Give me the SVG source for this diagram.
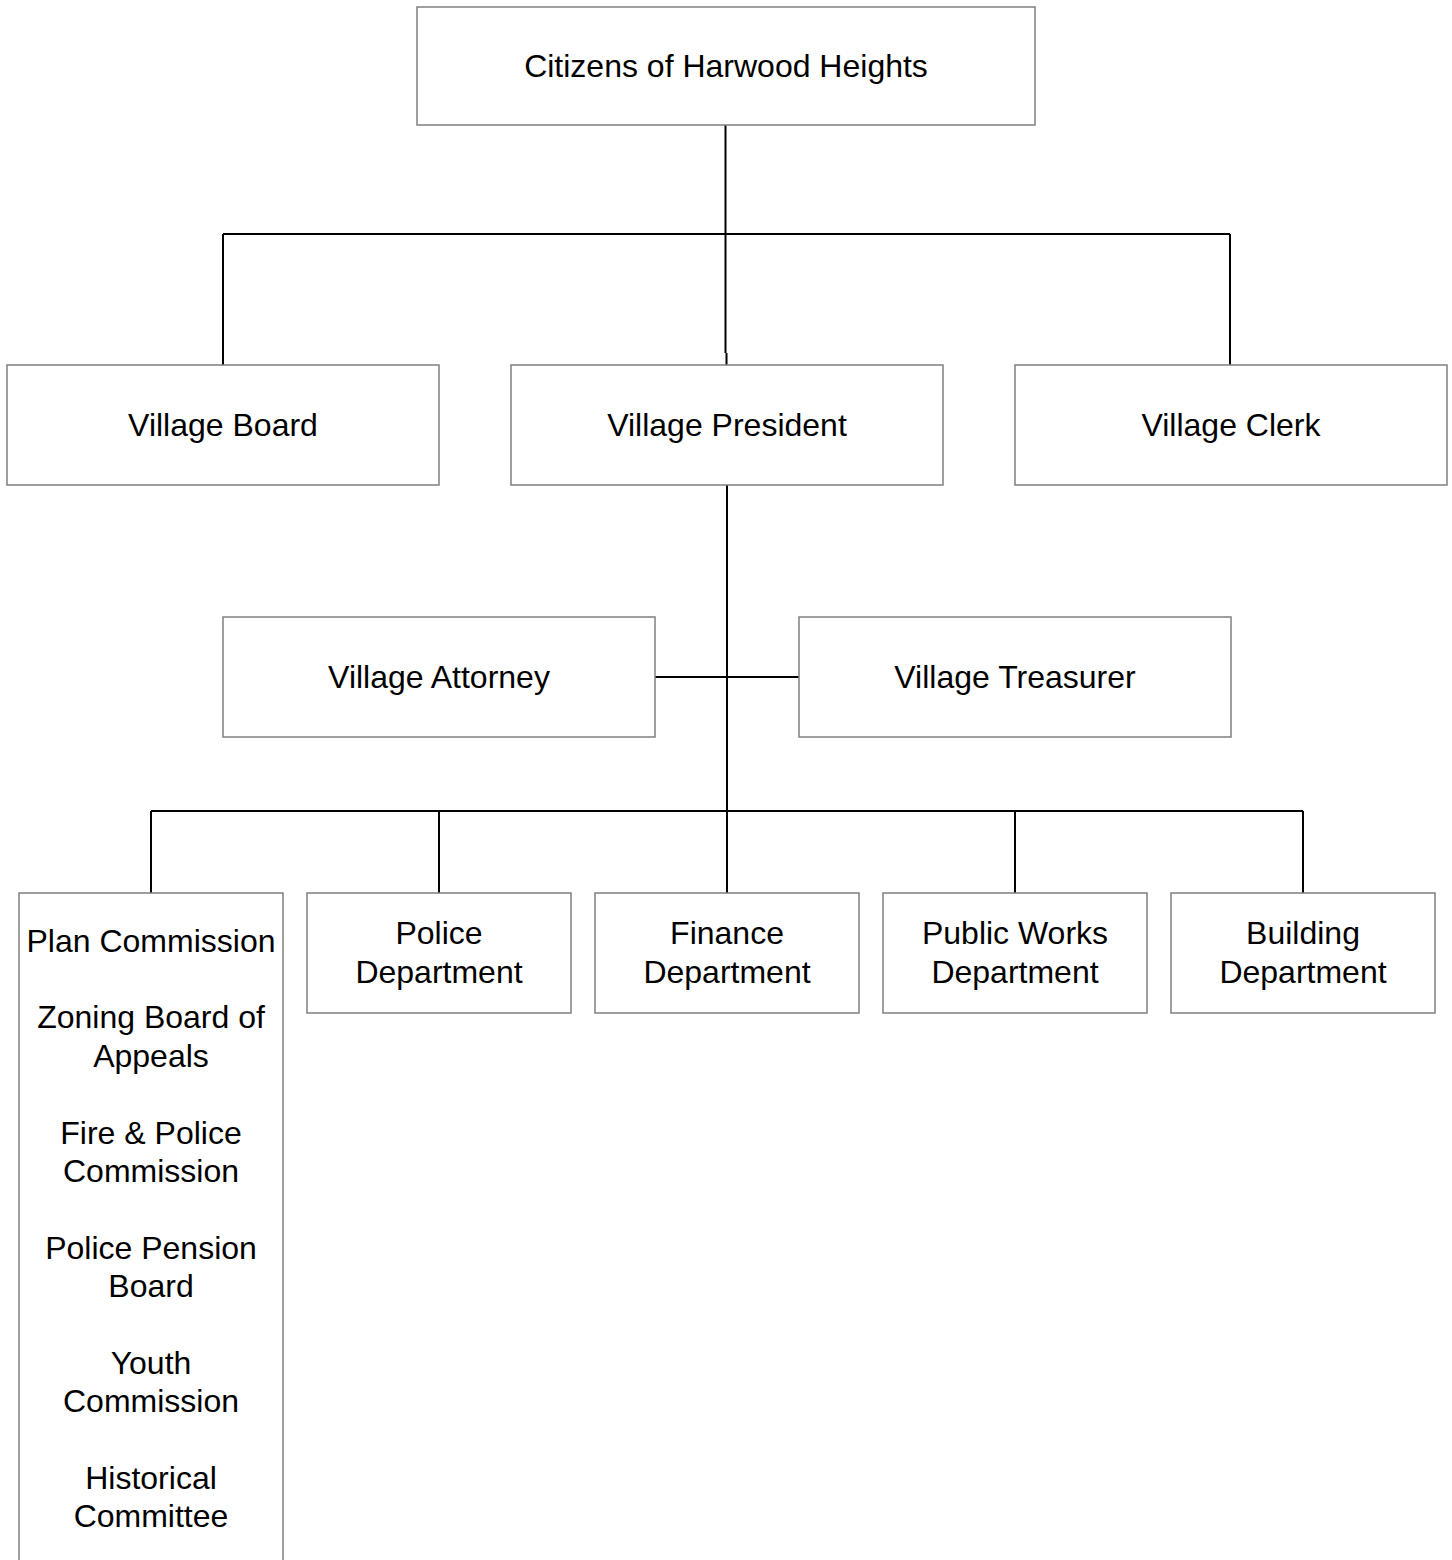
<svg xmlns="http://www.w3.org/2000/svg" width="1452" height="1560" viewBox="0 0 1452 1560">
<style>
.box{fill:#fff;stroke:#808080;stroke-width:1.5}
.lbl{font-family:"Liberation Sans",Arial,sans-serif;font-size:32px;fill:#000;text-anchor:middle}
.conn{stroke:#000;stroke-width:2;fill:none}
</style>
<rect width="1452" height="1560" fill="#fff"/>
<g id="connectors">
<path class="conn" d="M725.5 125V234M223 234H1230M223 234V365M1230 234V365M725.5 234V353M726.5 353V365"/>
<path class="conn" d="M727 485V893M655 677H799M151 811H1303M151 811V893M439 811V893M1015 811V893M1303 811V893"/>
</g>
<g id="citizens"><rect class="box" x="417" y="7" width="618" height="118"/><text class="lbl" x="726" y="76.5">Citizens of Harwood Heights</text></g>
<g id="board"><rect class="box" x="7" y="365" width="432" height="120"/><text class="lbl" x="223" y="435.5">Village Board</text></g>
<g id="president"><rect class="box" x="511" y="365" width="432" height="120"/><text class="lbl" x="727" y="435.5">Village President</text></g>
<g id="clerk"><rect class="box" x="1015" y="365" width="432" height="120"/><text class="lbl" x="1231" y="435.5">Village Clerk</text></g>
<g id="attorney"><rect class="box" x="223" y="617" width="432" height="120"/><text class="lbl" x="439" y="687.5">Village Attorney</text></g>
<g id="treasurer"><rect class="box" x="799" y="617" width="432" height="120"/><text class="lbl" x="1015" y="687.5">Village Treasurer</text></g>
<g id="commissions"><path class="box" d="M19 1562V893H283V1562"/>
<text class="lbl" x="151" y="951.5">Plan Commission</text>
<text class="lbl" x="151" y="1027.5">Zoning Board of</text><text class="lbl" x="151" y="1066.5">Appeals</text>
<text class="lbl" x="151" y="1143.5">Fire &amp; Police</text><text class="lbl" x="151" y="1181.5">Commission</text>
<text class="lbl" x="151" y="1258.5">Police Pension</text><text class="lbl" x="151" y="1296.5">Board</text>
<text class="lbl" x="151" y="1373.5">Youth</text><text class="lbl" x="151" y="1411.5">Commission</text>
<text class="lbl" x="151" y="1488.5">Historical</text><text class="lbl" x="151" y="1526.5">Committee</text>
</g>
<g id="police"><rect class="box" x="307" y="893" width="264" height="120"/><text class="lbl" x="439" y="943.5">Police</text><text class="lbl" x="439" y="982.5">Department</text></g>
<g id="finance"><rect class="box" x="595" y="893" width="264" height="120"/><text class="lbl" x="727" y="943.5">Finance</text><text class="lbl" x="727" y="982.5">Department</text></g>
<g id="publicworks"><rect class="box" x="883" y="893" width="264" height="120"/><text class="lbl" x="1015" y="943.5">Public Works</text><text class="lbl" x="1015" y="982.5">Department</text></g>
<g id="building"><rect class="box" x="1171" y="893" width="264" height="120"/><text class="lbl" x="1303" y="943.5">Building</text><text class="lbl" x="1303" y="982.5">Department</text></g>
</svg>
